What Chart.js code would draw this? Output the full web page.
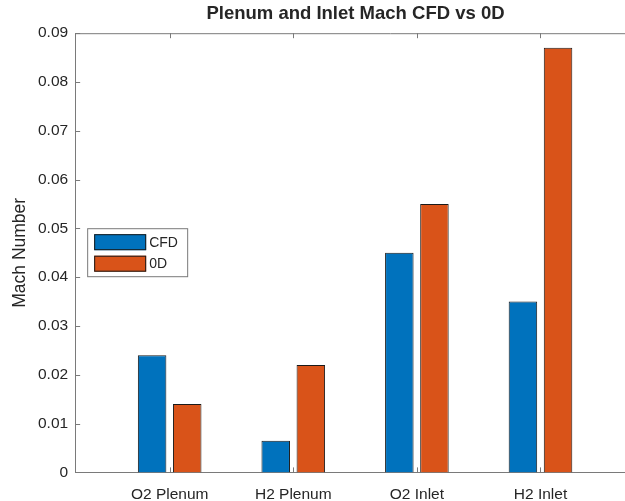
<!DOCTYPE html>
<html>
<head>
<meta charset="utf-8">
<title>Plenum and Inlet Mach CFD vs 0D</title>
<script src="https://cdn.jsdelivr.net/npm/chart.js@4/dist/chart.umd.min.js"></script>
<style>
  html, body { margin: 0; padding: 0; background: #ffffff; overflow: hidden; }
  #wrap { width: 625px; height: 501px; overflow: hidden; }
</style>
</head>
<body>
<div id="wrap">
  <!-- canevas plus large que la fenêtre : le bord droit du cadre est hors champ, comme sur la figure -->
  <canvas id="chart" width="711" height="501"></canvas>
</div>
<script>
// données
const categories = [ 'O2 Plenum', 'H2 Plenum', 'O2 Inlet', 'H2 Inlet' ]
const seriesNames = [ 'CFD', '0D' ]
const cfdMach = [ 0.024, 0.0065, 0.045, 0.035 ]
const zeroDMach = [ 0.014, 0.022, 0.055, 0.087 ]
const yTicks = [ 0, 0.01, 0.02, 0.03, 0.04, 0.05, 0.06, 0.07, 0.08, 0.09 ]
const yTickLabels = [ '0', '0.01', '0.02', '0.03', '0.04', '0.05', '0.06', '0.07', '0.08', '0.09' ]

const TEXT = '#262626'
const AXIS = '#7a7a7a'
const FONT = "'Liberation Sans', Arial, Helvetica, sans-serif"

// points {x, y} sur l'axe linéaire des catégories (1..n)
function toPoints( values ) {
    return values.map( ( v, i ) => ( { x: i + 1, y: v } ) )
}

/** Boîte MATLAB : cadre et graduations vers l'intérieur */
const boxPlugin = {
    id: 'matlabBox',
    afterDatasetsDraw( chart ) {
        const { ctx, chartArea: a, scales } = chart
        const len = 5
        ctx.save()
        ctx.strokeStyle = AXIS
        ctx.lineWidth = 1
        ctx.beginPath()
        ctx.moveTo( a.left, a.top + 0.5 )
        ctx.lineTo( a.right, a.top + 0.5 )
        for ( const t of scales.y.ticks ) {
            const py = Math.round( scales.y.getPixelForValue( t.value ) ) + 0.5
            ctx.moveTo( a.left, py )
            ctx.lineTo( a.left + len, py )
        }
        for ( const t of scales.x.ticks ) {
            const px = Math.round( scales.x.getPixelForValue( t.value ) ) + 0.5
            ctx.moveTo( px, a.bottom )
            ctx.lineTo( px, a.bottom - len )
            ctx.moveTo( px, a.top )
            ctx.lineTo( px, a.top + len )
        }
        ctx.stroke()
        ctx.restore()
    },
    afterDraw( chart ) {
        // légende dans le cadre, à gauche
        const { ctx, chartArea: a } = chart
        const x0 = a.left + 12, y0 = a.top + 195
        const w = 100, h = 48
        ctx.save()
        ctx.fillStyle = '#ffffff'
        ctx.fillRect( x0, y0, w, h )
        ctx.strokeStyle = AXIS
        ctx.lineWidth = 1
        ctx.strokeRect( x0 + 0.5, y0 + 0.5, w, h )
        ctx.font = '14px ' + FONT
        ctx.textBaseline = 'middle'
        chart.data.datasets.forEach( ( ds, i ) => {
            const sy = y0 + 6 + i * 21.5
            ctx.fillStyle = ds.backgroundColor
            ctx.fillRect( x0 + 7, sy, 52, 16 )
            ctx.strokeStyle = '#1a1a1a'
            ctx.strokeRect( x0 + 7.5, sy + 0.5, 51, 15 )
            ctx.fillStyle = TEXT
            ctx.fillText( ds.label, x0 + 62, sy + 8.5 )
        } )
        ctx.restore()
    }
}

const datasets = [
    {
        label: seriesNames[ 0 ],
        data: toPoints( cfdMach ),
        backgroundColor: '#0072BD',
        borderColor: '#1a1a1a',
        borderWidth: 1
    },
    {
        label: seriesNames[ 1 ],
        data: toPoints( zeroDMach ),
        backgroundColor: '#D95319',
        borderColor: '#1a1a1a',
        borderWidth: 1
    }
]

new Chart( document.getElementById( 'chart' ), {
    type: 'bar',
    data: { datasets: datasets },
    options: {
        responsive: false,
        animation: false,
        categoryPercentage: 0.568,
        barPercentage: 0.812,
        layout: { padding: { left: 5, right: 5, top: 0, bottom: -16 } },
        plugins: {
            legend: { display: false },
            tooltip: { enabled: false },
            title: {
                display: true,
                text: 'Plenum and Inlet Mach CFD vs 0D',
                color: TEXT,
                font: { family: FONT, size: 18.5, weight: 'bold' },
                padding: { top: 3, bottom: 8 }
            }
        },
        scales: {
            x: {
                type: 'linear',
                offset: false,
                min: 0.2355,
                max: 5.339,
                afterBuildTicks( scale ) {
                    scale.ticks = categories.map( ( c, i ) => ( { value: i + 1 } ) )
                },
                grid: { display: false, drawTicks: false },
                border: { display: true, color: AXIS, width: 1 },
                ticks: {
                    color: TEXT,
                    font: { family: FONT, size: 15.5 },
                    padding: 13,
                    maxRotation: 0,
                    autoSkip: false,
                    callback: ( v ) => categories[ v - 1 ]
                }
            },
            y: {
                min: 0,
                max: 0.09,
                afterBuildTicks( scale ) {
                    scale.ticks = yTicks.map( v => ( { value: v } ) )
                },
                grid: { display: false, drawTicks: false },
                border: { display: true, color: AXIS, width: 1 },
                ticks: {
                    color: TEXT,
                    font: { family: FONT, size: 15.5 },
                    padding: 7,
                    autoSkip: false,
                    callback: ( v, i ) => yTickLabels[ i ]
                },
                title: {
                    display: true,
                    text: 'Mach Number',
                    color: TEXT,
                    font: { family: FONT, size: 17.5 },
                    padding: { top: 5, bottom: 0 }
                }
            }
        }
    },
    plugins: [ boxPlugin ]
} )
</script>
</body>
</html>
